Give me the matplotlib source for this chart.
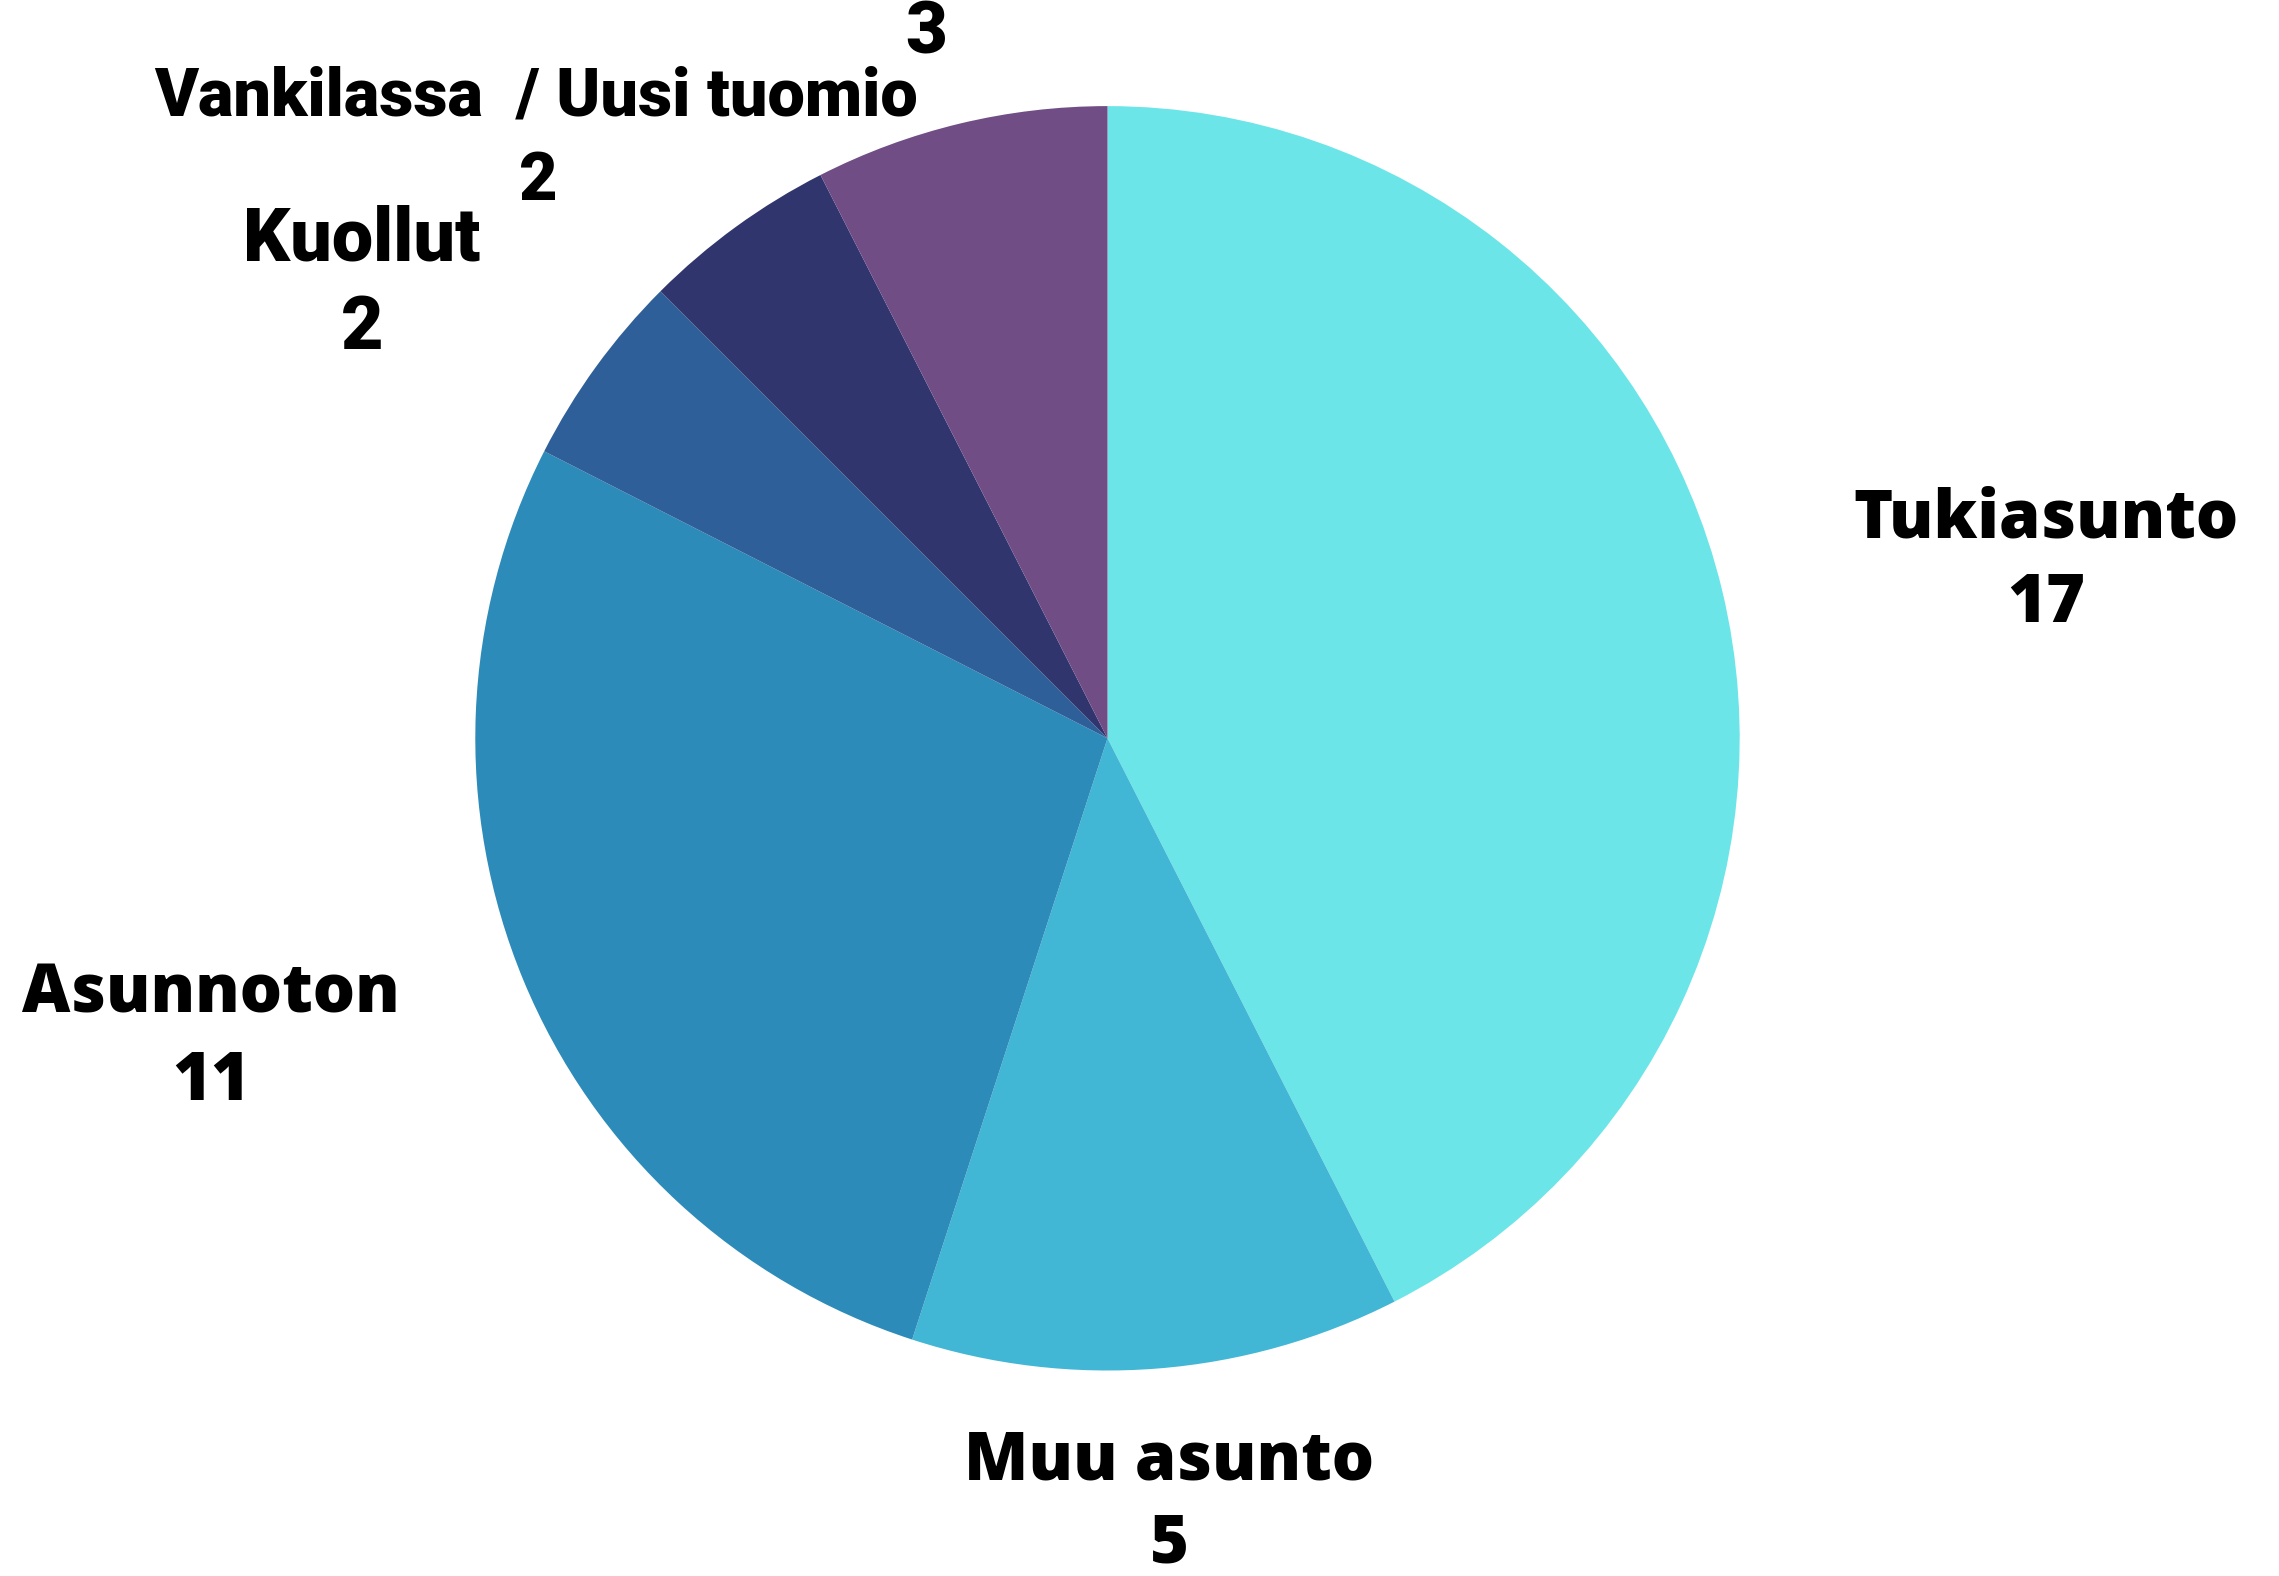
import matplotlib.pyplot as plt

labels = ['Tukiasunto', 'Muu asunto', 'Asunnoton', 'Kuollut', 'Vankilassa', 'Uusi tuomio']
values = [17, 5, 11, 2, 2, 3]
colors = ['#6ce5e8', '#41b6d5', '#2d8bb9', '#2f5f98', '#31356e', '#704d85']

W, H = 2279, 1576
fig = plt.figure(figsize=(W / 100, H / 100), dpi=100)
ax = fig.add_axes([0, 0, 1, 1])

# pie placed in pixel coords (y flipped)
cx, cy, r = 1107.5, H - 738.3, 632.2
ax.pie(values, colors=colors, startangle=90, counterclock=False,
       center=(cx, cy), radius=r, frame=True,
       wedgeprops={'linewidth': 0})
ax.set_xlim(0, W)
ax.set_ylim(0, H)
ax.axis('off')

bold = dict(family='Open Sans', fontweight=900, fontsize=48, ha='center', va='center', color='black')
narrow = dict(family='Roboto', fontweight=900, ha='center', va='center', color='black')

def put(x, y, s, **kw):
    ax.text(x, H - y, s, **kw)

put(2046, 520, labels[0], **bold)
put(2046, 604, str(values[0]), **bold)
put(1169, 1462, labels[1], **bold)
put(1169, 1545, str(values[1]), **bold)
put(211, 995, labels[2], **bold)
put(211, 1083, str(values[2]), **bold)

put(362, 240, labels[3], fontsize=53, **narrow)
put(362, 328, str(values[3]), fontsize=53, **narrow)
put(536, 97, labels[4] + '  / ' + labels[5], fontsize=48, **narrow)
put(538, 182, str(values[4]), fontsize=48, **narrow)
put(926, 34, str(values[5]), fontsize=52, **narrow)

fig.savefig('out.png', dpi=100, facecolor='white')
